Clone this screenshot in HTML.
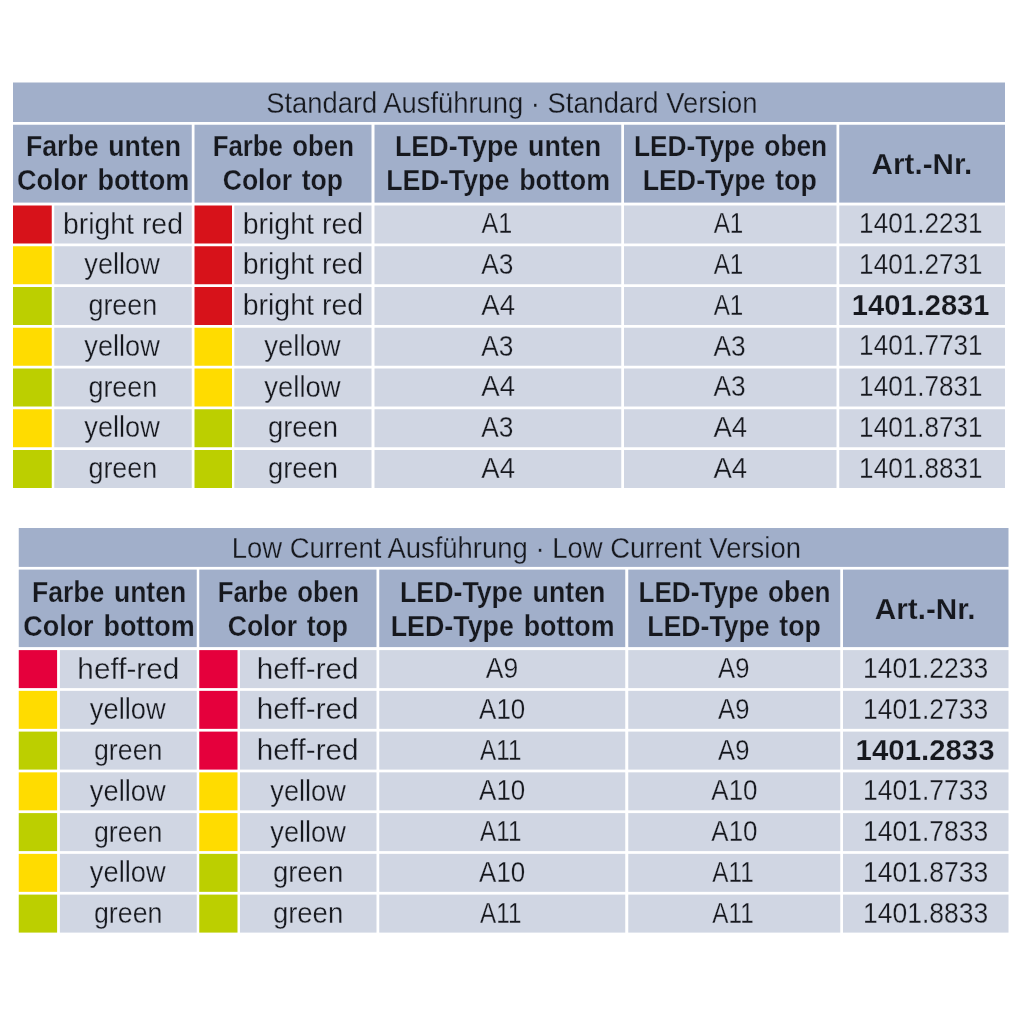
<!DOCTYPE html>
<html lang="de">
<head>
<meta charset="utf-8">
<title>LED Ausführungen</title>
<style>
html,body{margin:0;padding:0;background:#fff}
svg{display:block}
text{font-family:"Liberation Sans",Arial,sans-serif;font-size:30px;fill:#16181e}
.b{font-weight:bold;font-size:29px;word-spacing:2.5px;stroke:#a1afca;stroke-width:0.25px}
.n{font-weight:bold;font-size:29px;stroke:#d0d6e3;stroke-width:0.25px}
.r{stroke:#d0d6e3;stroke-width:0.3px}
.h{stroke:#a1afca;stroke-width:0.3px}
</style>
</head>
<body>
<svg width="1024" height="1024" viewBox="0 0 1024 1024">
<rect width="1024" height="1024" fill="#ffffff"/>
<rect x="13.00" y="82.50" width="992.00" height="39.50" fill="#a1afca"/>
<rect x="13.00" y="124.75" width="178.75" height="77.85" fill="#a1afca"/>
<rect x="194.50" y="124.75" width="177.00" height="77.85" fill="#a1afca"/>
<rect x="374.50" y="124.75" width="246.75" height="77.85" fill="#a1afca"/>
<rect x="624.00" y="124.75" width="212.50" height="77.85" fill="#a1afca"/>
<rect x="839.25" y="124.75" width="165.75" height="77.85" fill="#a1afca"/>
<rect x="13.00" y="205.50" width="38.75" height="38.00" fill="#d7121a"/>
<rect x="54.25" y="205.50" width="137.50" height="38.00" fill="#d0d6e3"/>
<rect x="194.50" y="205.50" width="37.50" height="38.00" fill="#d7121a"/>
<rect x="234.30" y="205.50" width="137.20" height="38.00" fill="#d0d6e3"/>
<rect x="374.50" y="205.50" width="246.75" height="38.00" fill="#d0d6e3"/>
<rect x="624.00" y="205.50" width="212.50" height="38.00" fill="#d0d6e3"/>
<rect x="839.25" y="205.50" width="165.75" height="38.00" fill="#d0d6e3"/>
<rect x="13.00" y="246.25" width="38.75" height="38.00" fill="#ffdc00"/>
<rect x="54.25" y="246.25" width="137.50" height="38.00" fill="#d0d6e3"/>
<rect x="194.50" y="246.25" width="37.50" height="38.00" fill="#d7121a"/>
<rect x="234.30" y="246.25" width="137.20" height="38.00" fill="#d0d6e3"/>
<rect x="374.50" y="246.25" width="246.75" height="38.00" fill="#d0d6e3"/>
<rect x="624.00" y="246.25" width="212.50" height="38.00" fill="#d0d6e3"/>
<rect x="839.25" y="246.25" width="165.75" height="38.00" fill="#d0d6e3"/>
<rect x="13.00" y="287.00" width="38.75" height="38.00" fill="#bccf00"/>
<rect x="54.25" y="287.00" width="137.50" height="38.00" fill="#d0d6e3"/>
<rect x="194.50" y="287.00" width="37.50" height="38.00" fill="#d7121a"/>
<rect x="234.30" y="287.00" width="137.20" height="38.00" fill="#d0d6e3"/>
<rect x="374.50" y="287.00" width="246.75" height="38.00" fill="#d0d6e3"/>
<rect x="624.00" y="287.00" width="212.50" height="38.00" fill="#d0d6e3"/>
<rect x="839.25" y="287.00" width="165.75" height="38.00" fill="#d0d6e3"/>
<rect x="13.00" y="327.75" width="38.75" height="38.00" fill="#ffdc00"/>
<rect x="54.25" y="327.75" width="137.50" height="38.00" fill="#d0d6e3"/>
<rect x="194.50" y="327.75" width="37.50" height="38.00" fill="#ffdc00"/>
<rect x="234.30" y="327.75" width="137.20" height="38.00" fill="#d0d6e3"/>
<rect x="374.50" y="327.75" width="246.75" height="38.00" fill="#d0d6e3"/>
<rect x="624.00" y="327.75" width="212.50" height="38.00" fill="#d0d6e3"/>
<rect x="839.25" y="327.75" width="165.75" height="38.00" fill="#d0d6e3"/>
<rect x="13.00" y="368.50" width="38.75" height="38.00" fill="#bccf00"/>
<rect x="54.25" y="368.50" width="137.50" height="38.00" fill="#d0d6e3"/>
<rect x="194.50" y="368.50" width="37.50" height="38.00" fill="#ffdc00"/>
<rect x="234.30" y="368.50" width="137.20" height="38.00" fill="#d0d6e3"/>
<rect x="374.50" y="368.50" width="246.75" height="38.00" fill="#d0d6e3"/>
<rect x="624.00" y="368.50" width="212.50" height="38.00" fill="#d0d6e3"/>
<rect x="839.25" y="368.50" width="165.75" height="38.00" fill="#d0d6e3"/>
<rect x="13.00" y="409.25" width="38.75" height="38.00" fill="#ffdc00"/>
<rect x="54.25" y="409.25" width="137.50" height="38.00" fill="#d0d6e3"/>
<rect x="194.50" y="409.25" width="37.50" height="38.00" fill="#bccf00"/>
<rect x="234.30" y="409.25" width="137.20" height="38.00" fill="#d0d6e3"/>
<rect x="374.50" y="409.25" width="246.75" height="38.00" fill="#d0d6e3"/>
<rect x="624.00" y="409.25" width="212.50" height="38.00" fill="#d0d6e3"/>
<rect x="839.25" y="409.25" width="165.75" height="38.00" fill="#d0d6e3"/>
<rect x="13.00" y="450.00" width="38.75" height="38.00" fill="#bccf00"/>
<rect x="54.25" y="450.00" width="137.50" height="38.00" fill="#d0d6e3"/>
<rect x="194.50" y="450.00" width="37.50" height="38.00" fill="#bccf00"/>
<rect x="234.30" y="450.00" width="137.20" height="38.00" fill="#d0d6e3"/>
<rect x="374.50" y="450.00" width="246.75" height="38.00" fill="#d0d6e3"/>
<rect x="624.00" y="450.00" width="212.50" height="38.00" fill="#d0d6e3"/>
<rect x="839.25" y="450.00" width="165.75" height="38.00" fill="#d0d6e3"/>
<rect x="18.75" y="528.00" width="989.75" height="38.90" fill="#a1afca"/>
<rect x="18.75" y="569.60" width="178.00" height="77.50" fill="#a1afca"/>
<rect x="199.25" y="569.60" width="177.25" height="77.50" fill="#a1afca"/>
<rect x="379.25" y="569.60" width="246.00" height="77.50" fill="#a1afca"/>
<rect x="628.25" y="569.60" width="212.00" height="77.50" fill="#a1afca"/>
<rect x="843.00" y="569.60" width="165.50" height="77.50" fill="#a1afca"/>
<rect x="18.75" y="650.10" width="38.35" height="38.00" fill="#e5003c"/>
<rect x="59.90" y="650.10" width="136.85" height="38.00" fill="#d0d6e3"/>
<rect x="199.25" y="650.10" width="38.25" height="38.00" fill="#e5003c"/>
<rect x="240.00" y="650.10" width="136.50" height="38.00" fill="#d0d6e3"/>
<rect x="379.25" y="650.10" width="246.00" height="38.00" fill="#d0d6e3"/>
<rect x="628.25" y="650.10" width="212.00" height="38.00" fill="#d0d6e3"/>
<rect x="843.00" y="650.10" width="165.50" height="38.00" fill="#d0d6e3"/>
<rect x="18.75" y="690.85" width="38.35" height="38.00" fill="#ffdc00"/>
<rect x="59.90" y="690.85" width="136.85" height="38.00" fill="#d0d6e3"/>
<rect x="199.25" y="690.85" width="38.25" height="38.00" fill="#e5003c"/>
<rect x="240.00" y="690.85" width="136.50" height="38.00" fill="#d0d6e3"/>
<rect x="379.25" y="690.85" width="246.00" height="38.00" fill="#d0d6e3"/>
<rect x="628.25" y="690.85" width="212.00" height="38.00" fill="#d0d6e3"/>
<rect x="843.00" y="690.85" width="165.50" height="38.00" fill="#d0d6e3"/>
<rect x="18.75" y="731.60" width="38.35" height="38.00" fill="#bccf00"/>
<rect x="59.90" y="731.60" width="136.85" height="38.00" fill="#d0d6e3"/>
<rect x="199.25" y="731.60" width="38.25" height="38.00" fill="#e5003c"/>
<rect x="240.00" y="731.60" width="136.50" height="38.00" fill="#d0d6e3"/>
<rect x="379.25" y="731.60" width="246.00" height="38.00" fill="#d0d6e3"/>
<rect x="628.25" y="731.60" width="212.00" height="38.00" fill="#d0d6e3"/>
<rect x="843.00" y="731.60" width="165.50" height="38.00" fill="#d0d6e3"/>
<rect x="18.75" y="772.35" width="38.35" height="38.00" fill="#ffdc00"/>
<rect x="59.90" y="772.35" width="136.85" height="38.00" fill="#d0d6e3"/>
<rect x="199.25" y="772.35" width="38.25" height="38.00" fill="#ffdc00"/>
<rect x="240.00" y="772.35" width="136.50" height="38.00" fill="#d0d6e3"/>
<rect x="379.25" y="772.35" width="246.00" height="38.00" fill="#d0d6e3"/>
<rect x="628.25" y="772.35" width="212.00" height="38.00" fill="#d0d6e3"/>
<rect x="843.00" y="772.35" width="165.50" height="38.00" fill="#d0d6e3"/>
<rect x="18.75" y="813.10" width="38.35" height="38.00" fill="#bccf00"/>
<rect x="59.90" y="813.10" width="136.85" height="38.00" fill="#d0d6e3"/>
<rect x="199.25" y="813.10" width="38.25" height="38.00" fill="#ffdc00"/>
<rect x="240.00" y="813.10" width="136.50" height="38.00" fill="#d0d6e3"/>
<rect x="379.25" y="813.10" width="246.00" height="38.00" fill="#d0d6e3"/>
<rect x="628.25" y="813.10" width="212.00" height="38.00" fill="#d0d6e3"/>
<rect x="843.00" y="813.10" width="165.50" height="38.00" fill="#d0d6e3"/>
<rect x="18.75" y="853.85" width="38.35" height="38.00" fill="#ffdc00"/>
<rect x="59.90" y="853.85" width="136.85" height="38.00" fill="#d0d6e3"/>
<rect x="199.25" y="853.85" width="38.25" height="38.00" fill="#bccf00"/>
<rect x="240.00" y="853.85" width="136.50" height="38.00" fill="#d0d6e3"/>
<rect x="379.25" y="853.85" width="246.00" height="38.00" fill="#d0d6e3"/>
<rect x="628.25" y="853.85" width="212.00" height="38.00" fill="#d0d6e3"/>
<rect x="843.00" y="853.85" width="165.50" height="38.00" fill="#d0d6e3"/>
<rect x="18.75" y="894.60" width="38.35" height="38.00" fill="#bccf00"/>
<rect x="59.90" y="894.60" width="136.85" height="38.00" fill="#d0d6e3"/>
<rect x="199.25" y="894.60" width="38.25" height="38.00" fill="#bccf00"/>
<rect x="240.00" y="894.60" width="136.50" height="38.00" fill="#d0d6e3"/>
<rect x="379.25" y="894.60" width="246.00" height="38.00" fill="#d0d6e3"/>
<rect x="628.25" y="894.60" width="212.00" height="38.00" fill="#d0d6e3"/>
<rect x="843.00" y="894.60" width="165.50" height="38.00" fill="#d0d6e3"/>
<text id="t0" class="h" x="266.19" textLength="491.24" lengthAdjust="spacingAndGlyphs" y="113.00">Standard Ausführung · Standard Version</text>
<text id="t1" class="b" x="25.95" textLength="155.00" lengthAdjust="spacingAndGlyphs" y="156.40">Farbe unten</text>
<text id="t2" class="b" x="16.94" textLength="172.35" lengthAdjust="spacingAndGlyphs" y="190.30">Color bottom</text>
<text id="t3" class="b" x="212.74" textLength="141.16" lengthAdjust="spacingAndGlyphs" y="156.40">Farbe oben</text>
<text id="t4" class="b" x="222.71" textLength="120.32" lengthAdjust="spacingAndGlyphs" y="190.30">Color top</text>
<text id="t5" class="b" x="394.95" textLength="206.26" lengthAdjust="spacingAndGlyphs" y="156.40">LED-Type unten</text>
<text id="t6" class="b" x="386.20" textLength="223.83" lengthAdjust="spacingAndGlyphs" y="190.30">LED-Type bottom</text>
<text id="t7" class="b" x="633.97" textLength="193.21" lengthAdjust="spacingAndGlyphs" y="156.40">LED-Type oben</text>
<text id="t8" class="b" x="642.70" textLength="174.08" lengthAdjust="spacingAndGlyphs" y="190.30">LED-Type top</text>
<text id="t9" class="b" x="871.62" textLength="100.58" lengthAdjust="spacingAndGlyphs" y="173.75">Art.-Nr.</text>
<text id="t10" class="r" x="62.90" textLength="120.09" lengthAdjust="spacingAndGlyphs" y="233.70">bright red</text>
<text id="t11" class="r" x="242.65" textLength="120.60" lengthAdjust="spacingAndGlyphs" y="233.70">bright red</text>
<text id="t12" class="r" x="481.45" textLength="30.77" lengthAdjust="spacingAndGlyphs" y="233.30">A1</text>
<text id="t13" class="r" x="713.65" textLength="29.65" lengthAdjust="spacingAndGlyphs" y="233.30">A1</text>
<text id="t14" class="r" x="859.11" textLength="123.39" lengthAdjust="spacingAndGlyphs" y="233.10">1401.2231</text>
<text id="t15" class="r" x="84.35" textLength="75.50" lengthAdjust="spacingAndGlyphs" y="274.45">yellow</text>
<text id="t16" class="r" x="242.65" textLength="120.60" lengthAdjust="spacingAndGlyphs" y="274.45">bright red</text>
<text id="t17" class="r" x="481.25" textLength="32.20" lengthAdjust="spacingAndGlyphs" y="274.05">A3</text>
<text id="t18" class="r" x="713.65" textLength="29.65" lengthAdjust="spacingAndGlyphs" y="274.05">A1</text>
<text id="t19" class="r" x="859.11" textLength="123.39" lengthAdjust="spacingAndGlyphs" y="273.85">1401.2731</text>
<text id="t20" class="r" x="88.45" textLength="68.70" lengthAdjust="spacingAndGlyphs" y="315.20">green</text>
<text id="t21" class="r" x="242.65" textLength="120.60" lengthAdjust="spacingAndGlyphs" y="315.20">bright red</text>
<text id="t22" class="r" x="481.25" textLength="33.78" lengthAdjust="spacingAndGlyphs" y="314.80">A4</text>
<text id="t23" class="r" x="713.65" textLength="29.65" lengthAdjust="spacingAndGlyphs" y="314.80">A1</text>
<text id="t24" class="n" x="851.87" textLength="137.63" lengthAdjust="spacingAndGlyphs" y="314.80">1401.2831</text>
<text id="t25" class="r" x="84.35" textLength="75.50" lengthAdjust="spacingAndGlyphs" y="355.95">yellow</text>
<text id="t26" class="r" x="264.35" textLength="76.24" lengthAdjust="spacingAndGlyphs" y="355.95">yellow</text>
<text id="t27" class="r" x="481.25" textLength="32.20" lengthAdjust="spacingAndGlyphs" y="355.55">A3</text>
<text id="t28" class="r" x="713.45" textLength="32.20" lengthAdjust="spacingAndGlyphs" y="355.55">A3</text>
<text id="t29" class="r" x="859.11" textLength="123.39" lengthAdjust="spacingAndGlyphs" y="355.35">1401.7731</text>
<text id="t30" class="r" x="88.45" textLength="68.70" lengthAdjust="spacingAndGlyphs" y="396.70">green</text>
<text id="t31" class="r" x="264.35" textLength="76.24" lengthAdjust="spacingAndGlyphs" y="396.70">yellow</text>
<text id="t32" class="r" x="481.25" textLength="33.78" lengthAdjust="spacingAndGlyphs" y="396.30">A4</text>
<text id="t33" class="r" x="713.45" textLength="32.20" lengthAdjust="spacingAndGlyphs" y="396.30">A3</text>
<text id="t34" class="r" x="859.11" textLength="123.39" lengthAdjust="spacingAndGlyphs" y="396.10">1401.7831</text>
<text id="t35" class="r" x="84.35" textLength="75.50" lengthAdjust="spacingAndGlyphs" y="437.45">yellow</text>
<text id="t36" class="r" x="267.94" textLength="70.00" lengthAdjust="spacingAndGlyphs" y="437.45">green</text>
<text id="t37" class="r" x="481.25" textLength="32.20" lengthAdjust="spacingAndGlyphs" y="437.05">A3</text>
<text id="t38" class="r" x="713.45" textLength="33.73" lengthAdjust="spacingAndGlyphs" y="437.05">A4</text>
<text id="t39" class="r" x="859.11" textLength="123.39" lengthAdjust="spacingAndGlyphs" y="436.85">1401.8731</text>
<text id="t40" class="r" x="88.45" textLength="68.70" lengthAdjust="spacingAndGlyphs" y="478.20">green</text>
<text id="t41" class="r" x="267.94" textLength="70.00" lengthAdjust="spacingAndGlyphs" y="478.20">green</text>
<text id="t42" class="r" x="481.25" textLength="33.78" lengthAdjust="spacingAndGlyphs" y="477.80">A4</text>
<text id="t43" class="r" x="713.45" textLength="33.73" lengthAdjust="spacingAndGlyphs" y="477.80">A4</text>
<text id="t44" class="r" x="859.11" textLength="123.39" lengthAdjust="spacingAndGlyphs" y="477.60">1401.8831</text>
<text id="t45" class="h" x="231.77" textLength="569.16" lengthAdjust="spacingAndGlyphs" y="557.60">Low Current Ausführung · Low Current Version</text>
<text id="t46" class="b" x="31.96" textLength="154.24" lengthAdjust="spacingAndGlyphs" y="601.60">Farbe unten</text>
<text id="t47" class="b" x="23.20" textLength="171.59" lengthAdjust="spacingAndGlyphs" y="635.60">Color bottom</text>
<text id="t48" class="b" x="217.74" textLength="141.16" lengthAdjust="spacingAndGlyphs" y="601.60">Farbe oben</text>
<text id="t49" class="b" x="227.71" textLength="120.32" lengthAdjust="spacingAndGlyphs" y="635.60">Color top</text>
<text id="t50" class="b" x="399.95" textLength="205.51" lengthAdjust="spacingAndGlyphs" y="601.60">LED-Type unten</text>
<text id="t51" class="b" x="390.70" textLength="223.83" lengthAdjust="spacingAndGlyphs" y="635.60">LED-Type bottom</text>
<text id="t52" class="b" x="638.47" textLength="191.95" lengthAdjust="spacingAndGlyphs" y="601.60">LED-Type oben</text>
<text id="t53" class="b" x="647.21" textLength="173.58" lengthAdjust="spacingAndGlyphs" y="635.60">LED-Type top</text>
<text id="t54" class="b" x="874.88" textLength="100.58" lengthAdjust="spacingAndGlyphs" y="619.25">Art.-Nr.</text>
<text id="t55" class="r" x="77.37" textLength="101.95" lengthAdjust="spacingAndGlyphs" y="678.60">heff-red</text>
<text id="t56" class="r" x="256.87" textLength="101.69" lengthAdjust="spacingAndGlyphs" y="678.60">heff-red</text>
<text id="t57" class="r" x="485.85" textLength="32.40" lengthAdjust="spacingAndGlyphs" y="678.20">A9</text>
<text id="t58" class="r" x="718.10" textLength="31.39" lengthAdjust="spacingAndGlyphs" y="678.20">A9</text>
<text id="t59" class="r" x="863.08" textLength="125.17" lengthAdjust="spacingAndGlyphs" y="678.00">1401.2233</text>
<text id="t60" class="r" x="89.85" textLength="75.75" lengthAdjust="spacingAndGlyphs" y="719.35">yellow</text>
<text id="t61" class="r" x="256.87" textLength="101.69" lengthAdjust="spacingAndGlyphs" y="719.35">heff-red</text>
<text id="t62" class="r" x="479.10" textLength="46.14" lengthAdjust="spacingAndGlyphs" y="718.95">A10</text>
<text id="t63" class="r" x="718.10" textLength="31.39" lengthAdjust="spacingAndGlyphs" y="718.95">A9</text>
<text id="t64" class="r" x="863.08" textLength="125.17" lengthAdjust="spacingAndGlyphs" y="718.75">1401.2733</text>
<text id="t65" class="r" x="93.96" textLength="68.44" lengthAdjust="spacingAndGlyphs" y="760.10">green</text>
<text id="t66" class="r" x="256.87" textLength="101.69" lengthAdjust="spacingAndGlyphs" y="760.10">heff-red</text>
<text id="t67" class="r" x="480.10" textLength="41.35" lengthAdjust="spacingAndGlyphs" y="759.70">A11</text>
<text id="t68" class="r" x="718.10" textLength="31.39" lengthAdjust="spacingAndGlyphs" y="759.70">A9</text>
<text id="t69" class="n" x="855.61" textLength="138.89" lengthAdjust="spacingAndGlyphs" y="759.70">1401.2833</text>
<text id="t70" class="r" x="89.85" textLength="75.75" lengthAdjust="spacingAndGlyphs" y="800.85">yellow</text>
<text id="t71" class="r" x="270.35" textLength="75.50" lengthAdjust="spacingAndGlyphs" y="800.85">yellow</text>
<text id="t72" class="r" x="479.10" textLength="46.14" lengthAdjust="spacingAndGlyphs" y="800.45">A10</text>
<text id="t73" class="r" x="711.35" textLength="46.14" lengthAdjust="spacingAndGlyphs" y="800.45">A10</text>
<text id="t74" class="r" x="863.08" textLength="125.17" lengthAdjust="spacingAndGlyphs" y="800.25">1401.7733</text>
<text id="t75" class="r" x="93.96" textLength="68.44" lengthAdjust="spacingAndGlyphs" y="841.60">green</text>
<text id="t76" class="r" x="270.35" textLength="75.50" lengthAdjust="spacingAndGlyphs" y="841.60">yellow</text>
<text id="t77" class="r" x="480.10" textLength="41.35" lengthAdjust="spacingAndGlyphs" y="841.20">A11</text>
<text id="t78" class="r" x="711.35" textLength="46.14" lengthAdjust="spacingAndGlyphs" y="841.20">A10</text>
<text id="t79" class="r" x="863.08" textLength="125.17" lengthAdjust="spacingAndGlyphs" y="841.00">1401.7833</text>
<text id="t80" class="r" x="89.85" textLength="75.75" lengthAdjust="spacingAndGlyphs" y="882.35">yellow</text>
<text id="t81" class="r" x="272.93" textLength="70.26" lengthAdjust="spacingAndGlyphs" y="882.35">green</text>
<text id="t82" class="r" x="479.10" textLength="46.14" lengthAdjust="spacingAndGlyphs" y="881.95">A10</text>
<text id="t83" class="r" x="712.35" textLength="41.35" lengthAdjust="spacingAndGlyphs" y="881.95">A11</text>
<text id="t84" class="r" x="863.08" textLength="125.17" lengthAdjust="spacingAndGlyphs" y="881.75">1401.8733</text>
<text id="t85" class="r" x="93.96" textLength="68.44" lengthAdjust="spacingAndGlyphs" y="923.10">green</text>
<text id="t86" class="r" x="272.93" textLength="70.26" lengthAdjust="spacingAndGlyphs" y="923.10">green</text>
<text id="t87" class="r" x="480.10" textLength="41.35" lengthAdjust="spacingAndGlyphs" y="922.70">A11</text>
<text id="t88" class="r" x="712.35" textLength="41.35" lengthAdjust="spacingAndGlyphs" y="922.70">A11</text>
<text id="t89" class="r" x="863.08" textLength="125.17" lengthAdjust="spacingAndGlyphs" y="922.50">1401.8833</text>
</svg>
</body>
</html>
